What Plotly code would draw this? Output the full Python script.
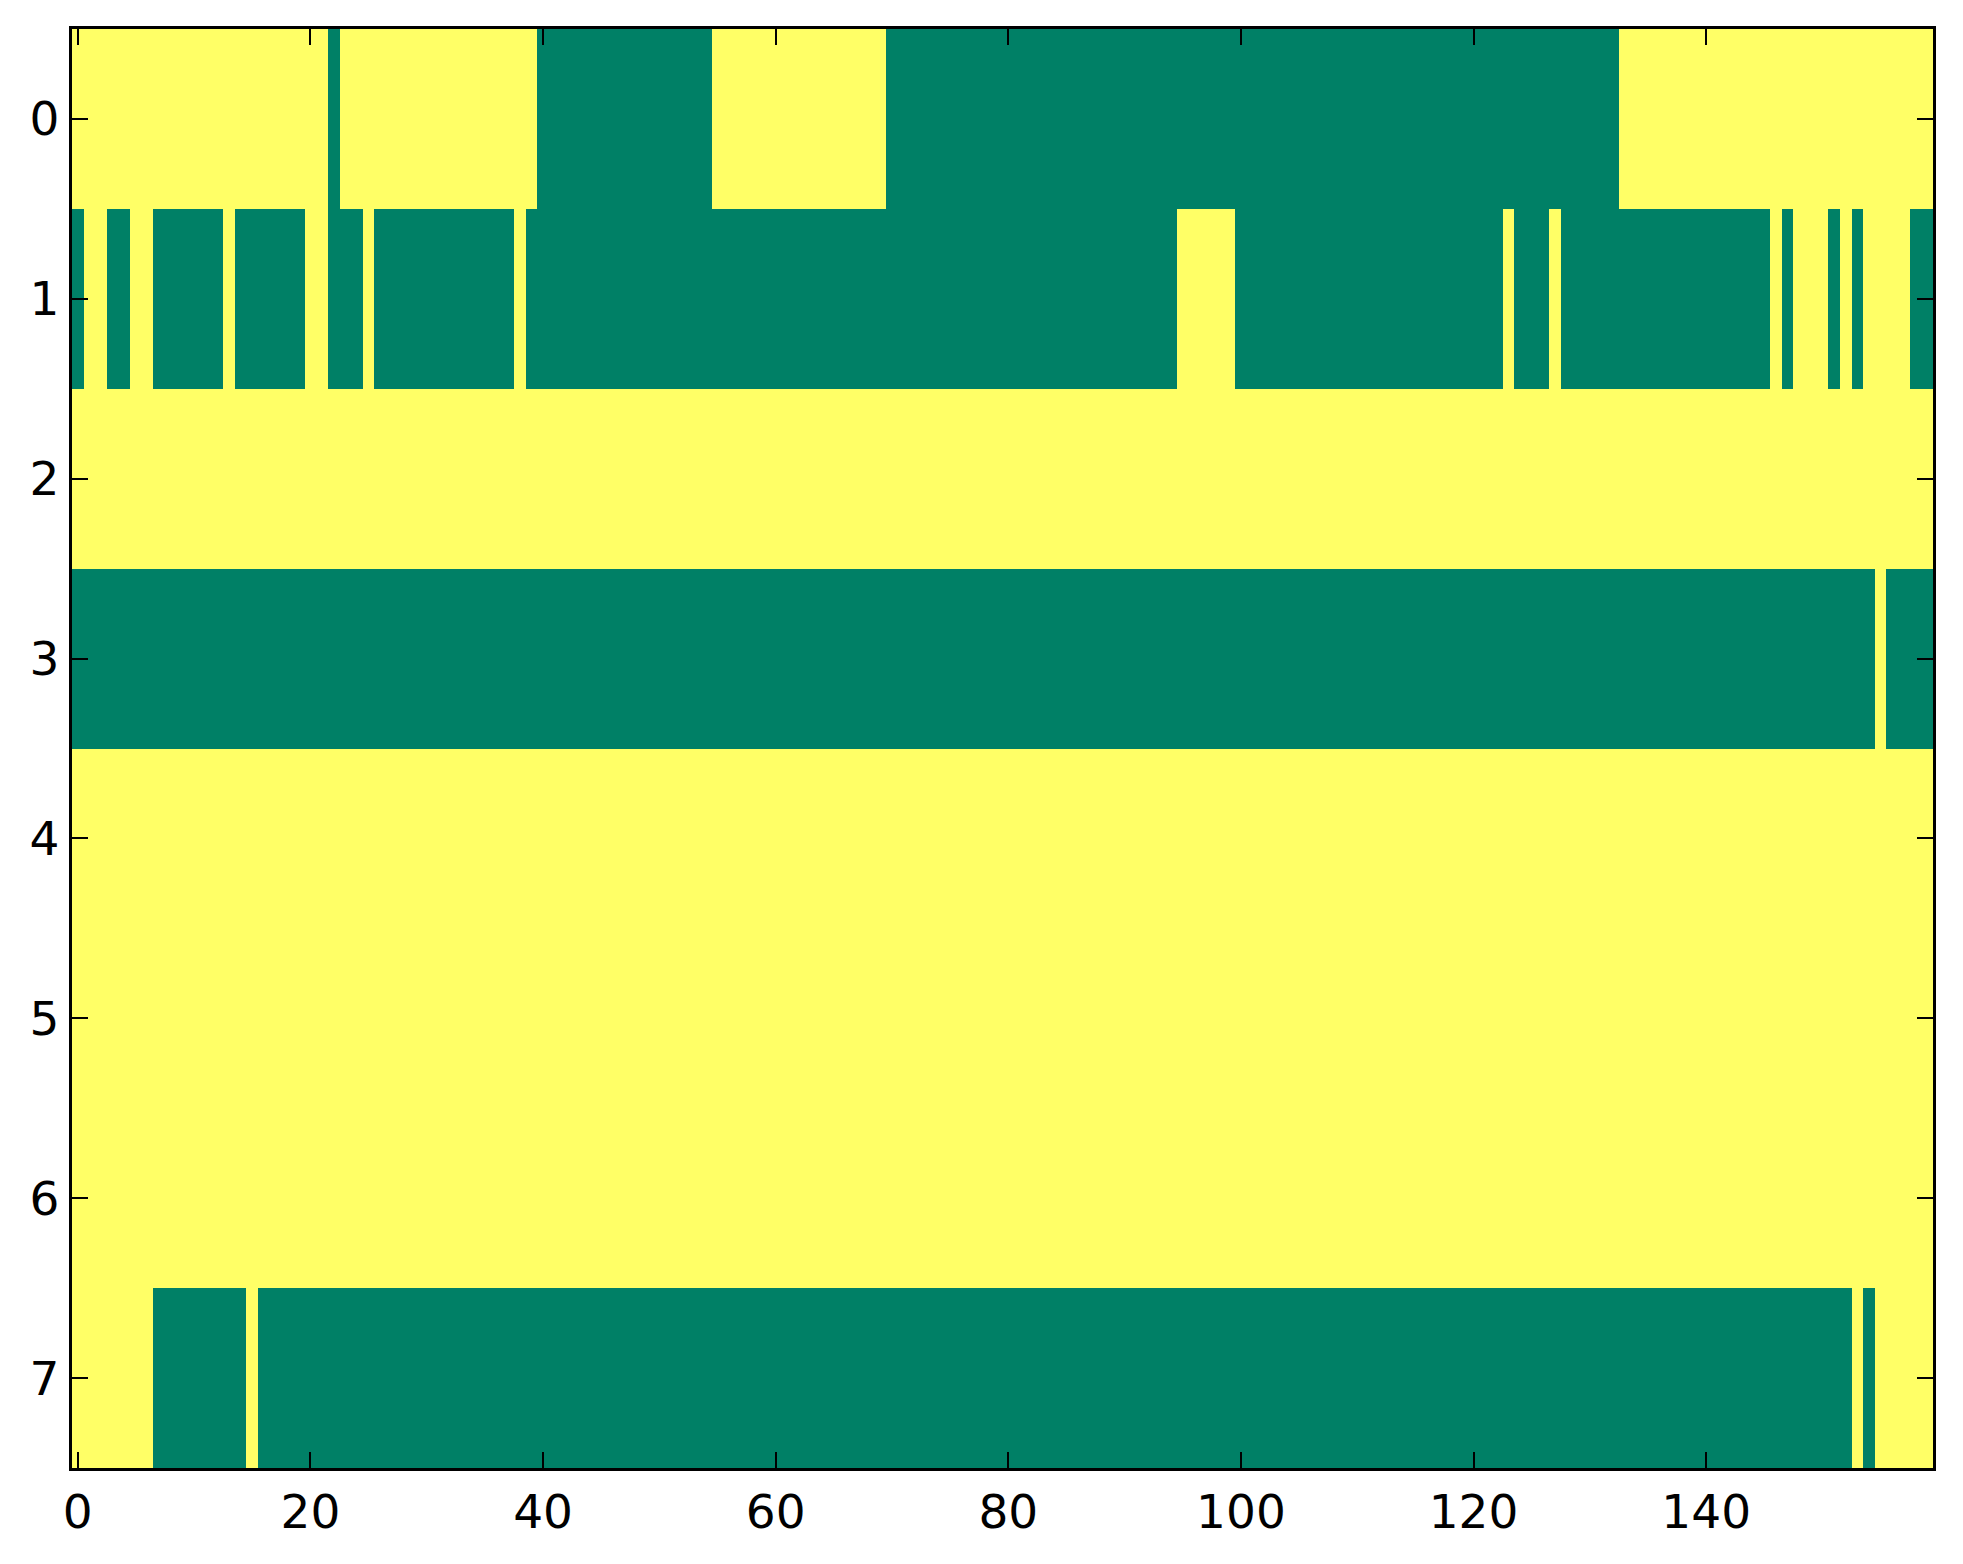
import plotly.graph_objects as go

# Run-length encoded rows: (value, count); 1 = yellow, 0 = green
row0_runs = [(1, 22), (0, 1), (1, 17), (0, 15), (1, 15), (0, 63), (1, 27)]
row1_runs = [(0, 1), (1, 2), (0, 2), (1, 2), (0, 6), (1, 1), (0, 6), (1, 2), (0, 3),
             (1, 1), (0, 12), (1, 1), (0, 56), (1, 5), (0, 23), (1, 1), (0, 3), (1, 1),
             (0, 18), (1, 1), (0, 1), (1, 3), (0, 1), (1, 1), (0, 1), (1, 4), (0, 2)]
row2_runs = [(1, 160)]
row3_runs = [(0, 155), (1, 1), (0, 4)]
row4_runs = [(1, 160)]
row5_runs = [(1, 160)]
row6_runs = [(1, 160)]
row7_runs = [(1, 7), (0, 8), (1, 1), (0, 137), (1, 1), (0, 1), (1, 5)]

all_rows = [row0_runs, row1_runs, row2_runs, row3_runs,
            row4_runs, row5_runs, row6_runs, row7_runs]

x_tick_vals = [0, 20, 40, 60, 80, 100, 120, 140]
y_tick_vals = [0, 1, 2, 3, 4, 5, 6, 7]


def expand(runs):
    out = []
    for v, n in runs:
        out.extend([v] * n)
    return out


z = [expand(r) for r in all_rows]
ncols = len(z[0])
nrows = len(z)

fig = go.Figure(go.Heatmap(
    z=z,
    x=list(range(ncols)),
    y=list(range(nrows)),
    colorscale=[[0, "#008066"], [1, "#ffff66"]],
    zmin=0, zmax=1,
    showscale=False,
    hoverinfo="skip",
))

axis_common = dict(
    showline=True, linecolor="black", linewidth=3.3, mirror="ticks",
    ticks="inside", ticklen=16, tickwidth=2, tickcolor="black",
    showgrid=False, zeroline=False,
    tickfont=dict(family="DejaVu Sans", size=47, color="black"),
)

fig.update_layout(
    width=1947, height=1548,
    margin=dict(l=64, r=22, t=21, b=88),
    paper_bgcolor="white", plot_bgcolor="white",
    xaxis=dict(range=[-0.5, ncols - 0.5], tickvals=x_tick_vals, **axis_common),
    yaxis=dict(range=[nrows - 0.5, -0.5], tickvals=y_tick_vals, **axis_common),
)

fig.write_html("out.html")
